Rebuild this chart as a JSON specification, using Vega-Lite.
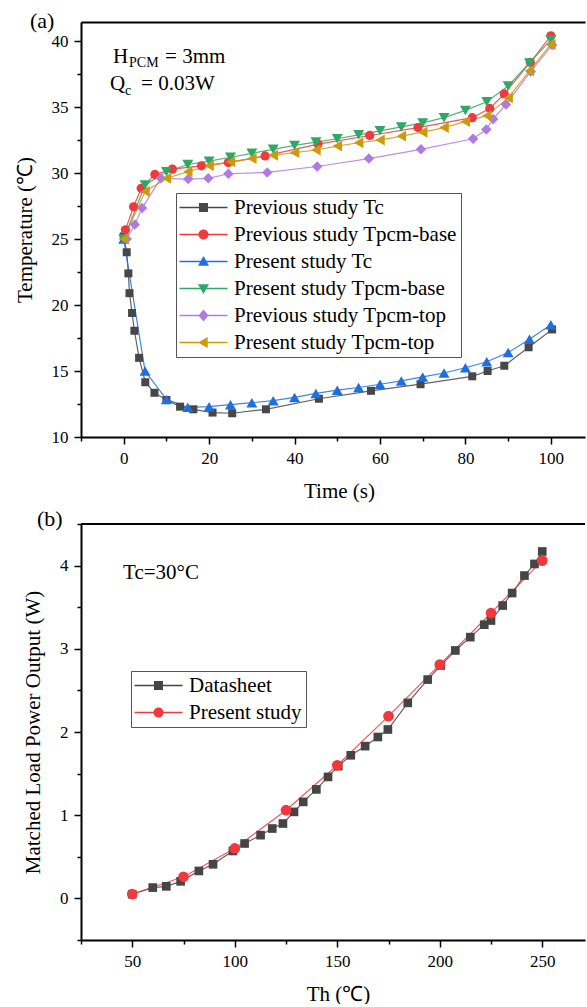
{
  "$schema": "https://vega.github.io/schema/vega-lite/v6.json",
  "background": "white",
  "padding": {"left": 14, "top": 10, "right": 0, "bottom": 0},
  "spacing": 6,
  "resolve": {"scale": {"color": "independent", "shape": "independent"}, "legend": {"color": "independent", "shape": "independent"}},
  "config": {
    "font": "Liberation Serif",
    "view": {"stroke": null},
    "axis": {"domainColor": "black", "domainWidth": 2, "tickColor": "black", "tickWidth": 1.5, "labelFont": "Liberation Serif", "labelFontSize": 17, "labelColor": "black", "titleFont": "Liberation Serif", "titleFontSize": 21, "titleFontWeight": "normal", "titleColor": "black", "titleLimit": 1000, "grid": false, "labelPadding": 6, "labelOverlap": false, "labelFlush": false},
    "legend": {"orient": "none", "strokeColor": "#555", "fillColor": "white", "padding": 4, "symbolSize": 400, "symbolOffset": 13, "labelOffset": 20, "labelFont": "Liberation Serif", "labelFontSize": 21, "labelColor": "black", "rowPadding": 5, "symbolStrokeWidth": 0, "labelLimit": 400}
  },
  "datasets": {
    "a": [
      {"s": "Previous study Tc", "t": 0, "T": 25.2},
      {"s": "Previous study Tc", "t": 0.7, "T": 24.0},
      {"s": "Previous study Tc", "t": 1.1, "T": 22.4},
      {"s": "Previous study Tc", "t": 1.35, "T": 20.9},
      {"s": "Previous study Tc", "t": 1.95, "T": 19.4},
      {"s": "Previous study Tc", "t": 2.5, "T": 18.05},
      {"s": "Previous study Tc", "t": 3.6, "T": 16.0},
      {"s": "Previous study Tc", "t": 5.05, "T": 14.15},
      {"s": "Previous study Tc", "t": 7.2, "T": 13.35},
      {"s": "Previous study Tc", "t": 10.0, "T": 12.8},
      {"s": "Previous study Tc", "t": 13.2, "T": 12.3},
      {"s": "Previous study Tc", "t": 16.3, "T": 12.1},
      {"s": "Previous study Tc", "t": 20.8, "T": 11.85},
      {"s": "Previous study Tc", "t": 25.4, "T": 11.8},
      {"s": "Previous study Tc", "t": 33.3, "T": 12.1},
      {"s": "Previous study Tc", "t": 45.7, "T": 12.9},
      {"s": "Previous study Tc", "t": 57.9, "T": 13.5},
      {"s": "Previous study Tc", "t": 69.5, "T": 14.0},
      {"s": "Previous study Tc", "t": 81.6, "T": 14.6},
      {"s": "Previous study Tc", "t": 85.2, "T": 15.0},
      {"s": "Previous study Tc", "t": 89.1, "T": 15.4},
      {"s": "Previous study Tc", "t": 94.8, "T": 16.8},
      {"s": "Previous study Tc", "t": 100.3, "T": 18.15},
      {"s": "Previous study Tpcm-base", "t": 0.4, "T": 25.7},
      {"s": "Previous study Tpcm-base", "t": 2.3, "T": 27.45},
      {"s": "Previous study Tpcm-base", "t": 4.1, "T": 28.85},
      {"s": "Previous study Tpcm-base", "t": 7.3, "T": 29.9},
      {"s": "Previous study Tpcm-base", "t": 11.4, "T": 30.3},
      {"s": "Previous study Tpcm-base", "t": 18.2, "T": 30.55},
      {"s": "Previous study Tpcm-base", "t": 24.5, "T": 30.8},
      {"s": "Previous study Tpcm-base", "t": 33.1, "T": 31.3},
      {"s": "Previous study Tpcm-base", "t": 45.5, "T": 32.2},
      {"s": "Previous study Tpcm-base", "t": 57.6, "T": 32.85},
      {"s": "Previous study Tpcm-base", "t": 68.9, "T": 33.45},
      {"s": "Previous study Tpcm-base", "t": 81.6, "T": 34.2},
      {"s": "Previous study Tpcm-base", "t": 85.7, "T": 34.9},
      {"s": "Previous study Tpcm-base", "t": 89.1, "T": 36.0},
      {"s": "Previous study Tpcm-base", "t": 95.2, "T": 38.4},
      {"s": "Previous study Tpcm-base", "t": 100, "T": 40.4},
      {"s": "Present study Tc", "t": 0, "T": 25.0},
      {"s": "Present study Tc", "t": 5, "T": 15.0},
      {"s": "Present study Tc", "t": 10, "T": 12.85},
      {"s": "Present study Tc", "t": 15, "T": 12.25},
      {"s": "Present study Tc", "t": 20, "T": 12.3},
      {"s": "Present study Tc", "t": 25, "T": 12.45},
      {"s": "Present study Tc", "t": 30, "T": 12.6},
      {"s": "Present study Tc", "t": 35, "T": 12.75},
      {"s": "Present study Tc", "t": 40, "T": 13.0},
      {"s": "Present study Tc", "t": 45, "T": 13.3},
      {"s": "Present study Tc", "t": 50, "T": 13.55},
      {"s": "Present study Tc", "t": 55, "T": 13.75},
      {"s": "Present study Tc", "t": 60, "T": 14.0},
      {"s": "Present study Tc", "t": 65, "T": 14.25},
      {"s": "Present study Tc", "t": 70, "T": 14.55},
      {"s": "Present study Tc", "t": 75, "T": 14.85},
      {"s": "Present study Tc", "t": 80, "T": 15.25},
      {"s": "Present study Tc", "t": 85, "T": 15.7},
      {"s": "Present study Tc", "t": 90, "T": 16.4},
      {"s": "Present study Tc", "t": 95, "T": 17.4},
      {"s": "Present study Tc", "t": 100, "T": 18.5},
      {"s": "Present study Tpcm-base", "t": 0, "T": 25.0},
      {"s": "Present study Tpcm-base", "t": 5, "T": 29.1},
      {"s": "Present study Tpcm-base", "t": 10, "T": 30.1},
      {"s": "Present study Tpcm-base", "t": 15, "T": 30.65},
      {"s": "Present study Tpcm-base", "t": 20, "T": 30.9},
      {"s": "Present study Tpcm-base", "t": 25, "T": 31.2},
      {"s": "Present study Tpcm-base", "t": 30, "T": 31.5},
      {"s": "Present study Tpcm-base", "t": 35, "T": 31.8},
      {"s": "Present study Tpcm-base", "t": 40, "T": 32.1},
      {"s": "Present study Tpcm-base", "t": 45, "T": 32.35},
      {"s": "Present study Tpcm-base", "t": 50, "T": 32.6},
      {"s": "Present study Tpcm-base", "t": 55, "T": 32.9},
      {"s": "Present study Tpcm-base", "t": 60, "T": 33.2},
      {"s": "Present study Tpcm-base", "t": 65, "T": 33.5},
      {"s": "Present study Tpcm-base", "t": 70, "T": 33.8},
      {"s": "Present study Tpcm-base", "t": 75, "T": 34.2},
      {"s": "Present study Tpcm-base", "t": 80, "T": 34.75},
      {"s": "Present study Tpcm-base", "t": 85, "T": 35.4},
      {"s": "Present study Tpcm-base", "t": 90, "T": 36.6},
      {"s": "Present study Tpcm-base", "t": 95, "T": 38.35},
      {"s": "Present study Tpcm-base", "t": 100, "T": 40.1},
      {"s": "Previous study Tpcm-top", "t": 0.7, "T": 25.0},
      {"s": "Previous study Tpcm-top", "t": 2.6, "T": 26.1},
      {"s": "Previous study Tpcm-top", "t": 4.3, "T": 27.35},
      {"s": "Previous study Tpcm-top", "t": 8.7, "T": 29.6},
      {"s": "Previous study Tpcm-top", "t": 15.1, "T": 29.55},
      {"s": "Previous study Tpcm-top", "t": 19.8, "T": 29.6},
      {"s": "Previous study Tpcm-top", "t": 24.5, "T": 29.95},
      {"s": "Previous study Tpcm-top", "t": 33.6, "T": 30.05},
      {"s": "Previous study Tpcm-top", "t": 45.3, "T": 30.5},
      {"s": "Previous study Tpcm-top", "t": 57.4, "T": 31.1},
      {"s": "Previous study Tpcm-top", "t": 69.6, "T": 31.8},
      {"s": "Previous study Tpcm-top", "t": 81.8, "T": 32.6},
      {"s": "Previous study Tpcm-top", "t": 84.9, "T": 33.3},
      {"s": "Previous study Tpcm-top", "t": 86.5, "T": 34.1},
      {"s": "Previous study Tpcm-top", "t": 89.5, "T": 35.2},
      {"s": "Previous study Tpcm-top", "t": 95.3, "T": 37.7},
      {"s": "Previous study Tpcm-top", "t": 100.3, "T": 39.7},
      {"s": "Present study Tpcm-top", "t": 0, "T": 25.0},
      {"s": "Present study Tpcm-top", "t": 5, "T": 28.6},
      {"s": "Present study Tpcm-top", "t": 10, "T": 29.6},
      {"s": "Present study Tpcm-top", "t": 15, "T": 30.1},
      {"s": "Present study Tpcm-top", "t": 20, "T": 30.55},
      {"s": "Present study Tpcm-top", "t": 25, "T": 30.85},
      {"s": "Present study Tpcm-top", "t": 30, "T": 31.1},
      {"s": "Present study Tpcm-top", "t": 35, "T": 31.35},
      {"s": "Present study Tpcm-top", "t": 40, "T": 31.55},
      {"s": "Present study Tpcm-top", "t": 45, "T": 31.75},
      {"s": "Present study Tpcm-top", "t": 50, "T": 32.05},
      {"s": "Present study Tpcm-top", "t": 55, "T": 32.3},
      {"s": "Present study Tpcm-top", "t": 60, "T": 32.5},
      {"s": "Present study Tpcm-top", "t": 65, "T": 32.8},
      {"s": "Present study Tpcm-top", "t": 70, "T": 33.1},
      {"s": "Present study Tpcm-top", "t": 75, "T": 33.45},
      {"s": "Present study Tpcm-top", "t": 80, "T": 33.9},
      {"s": "Present study Tpcm-top", "t": 85, "T": 34.35},
      {"s": "Present study Tpcm-top", "t": 90, "T": 35.7},
      {"s": "Present study Tpcm-top", "t": 95, "T": 37.75},
      {"s": "Present study Tpcm-top", "t": 100, "T": 39.75}
    ],
    "b": [
      {"s": "Datasheet", "Th": 50, "P": 0.05},
      {"s": "Datasheet", "Th": 60, "P": 0.13},
      {"s": "Datasheet", "Th": 66.6, "P": 0.145},
      {"s": "Datasheet", "Th": 73.6, "P": 0.205},
      {"s": "Datasheet", "Th": 82.5, "P": 0.33},
      {"s": "Datasheet", "Th": 89.4, "P": 0.41},
      {"s": "Datasheet", "Th": 99.1, "P": 0.57},
      {"s": "Datasheet", "Th": 104.8, "P": 0.66},
      {"s": "Datasheet", "Th": 112.6, "P": 0.76},
      {"s": "Datasheet", "Th": 118.3, "P": 0.84},
      {"s": "Datasheet", "Th": 123.5, "P": 0.9},
      {"s": "Datasheet", "Th": 128.9, "P": 1.04},
      {"s": "Datasheet", "Th": 133.4, "P": 1.16},
      {"s": "Datasheet", "Th": 139.8, "P": 1.31},
      {"s": "Datasheet", "Th": 145.5, "P": 1.46},
      {"s": "Datasheet", "Th": 150.5, "P": 1.59},
      {"s": "Datasheet", "Th": 156.6, "P": 1.72},
      {"s": "Datasheet", "Th": 163.6, "P": 1.83},
      {"s": "Datasheet", "Th": 169.8, "P": 1.94},
      {"s": "Datasheet", "Th": 174.7, "P": 2.03},
      {"s": "Datasheet", "Th": 184.4, "P": 2.35},
      {"s": "Datasheet", "Th": 194.1, "P": 2.63},
      {"s": "Datasheet", "Th": 200.5, "P": 2.8},
      {"s": "Datasheet", "Th": 207.6, "P": 2.98},
      {"s": "Datasheet", "Th": 214.9, "P": 3.14},
      {"s": "Datasheet", "Th": 221.7, "P": 3.29},
      {"s": "Datasheet", "Th": 225, "P": 3.34},
      {"s": "Datasheet", "Th": 230.7, "P": 3.52},
      {"s": "Datasheet", "Th": 235.3, "P": 3.67},
      {"s": "Datasheet", "Th": 241.3, "P": 3.88},
      {"s": "Datasheet", "Th": 246.2, "P": 4.02},
      {"s": "Datasheet", "Th": 250, "P": 4.17},
      {"s": "Present study", "Th": 50, "P": 0.053},
      {"s": "Present study", "Th": 75, "P": 0.26},
      {"s": "Present study", "Th": 100, "P": 0.6},
      {"s": "Present study", "Th": 125, "P": 1.06},
      {"s": "Present study", "Th": 150, "P": 1.6},
      {"s": "Present study", "Th": 175, "P": 2.19},
      {"s": "Present study", "Th": 200, "P": 2.81},
      {"s": "Present study", "Th": 225, "P": 3.43},
      {"s": "Present study", "Th": 250, "P": 4.06}
    ]
  },
  "vconcat": [
    {
      "width": 504,
      "height": 415,
      "data": {"name": "a"},
      "title": {"text": "(a)", "anchor": "start", "frame": "group", "dx": -51, "offset": -28, "baseline": "alphabetic", "font": "Liberation Serif", "fontSize": 22, "fontWeight": "normal", "color": "black"},
      "layer": [
        {
          "transform": [{"filter": "datum.t < -1000"}],
          "mark": {"type": "point", "filled": true, "opacity": 1},
          "encoding": {
            "x": {"field": "t", "type": "quantitative", "axis": {"orient": "top", "labels": false, "ticks": false, "title": null, "domainWidth": 2, "domainColor": "black", "offset": 0}},
            "y": {"field": "T", "type": "quantitative", "axis": null},
            "color": {"field": "s", "type": "nominal", "legend": {"title": null, "legendX": 95, "legendY": 171}},
            "shape": {"field": "s", "type": "nominal", "legend": {"title": null, "legendX": 95, "legendY": 171},
              "scale": {"domain": ["Previous study Tc", "Previous study Tpcm-base", "Present study Tc", "Present study Tpcm-base", "Previous study Tpcm-top", "Present study Tpcm-top"],
                "range": [
                  "M-2.4,-0.07H2.4V0.07H-2.4ZM-0.45,-0.45H0.45V0.45H-0.45Z",
                  "M-2.4,-0.07H2.4V0.07H-2.4ZM-0.5,0A0.5,0.5,0,1,1,0.5,0A0.5,0.5,0,1,1,-0.5,0Z",
                  "M-2.4,-0.07H2.4V0.07H-2.4ZM0,-0.55L0.55,0.42L-0.55,0.42Z",
                  "M-2.4,-0.07H2.4V0.07H-2.4ZM0,0.55L-0.55,-0.42L0.55,-0.42Z",
                  "M-2.4,-0.07H2.4V0.07H-2.4ZM0,-0.6L0.5,0L0,0.6L-0.5,0Z",
                  "M-2.4,-0.07H2.4V0.07H-2.4ZM-0.55,0L0.42,-0.55L0.42,0.55Z"
                ]}}
          }
        },
        {
          "mark": {"type": "line", "strokeWidth": 1.2, "opacity": 0.85},
          "encoding": {
            "x": {"field": "t", "type": "quantitative", "scale": {"domain": [-10, 108], "nice": false, "zero": false},
              "axis": {"orient": "bottom", "title": "Time (s)", "values": [0, 20, 40, 60, 80, 100], "tickSize": 7, "titlePadding": 14, "titleX": 258}},
            "y": {"field": "T", "type": "quantitative", "scale": {"domain": [10, 41.45], "nice": false, "zero": false},
              "axis": {"orient": "left", "title": "Temperature (℃)", "values": [10, 15, 20, 25, 30, 35, 40], "tickSize": 7, "titlePadding": 16}},
            "color": {"field": "s", "type": "nominal", "legend": null,
              "scale": {"domain": ["Previous study Tc", "Previous study Tpcm-base", "Present study Tc", "Present study Tpcm-base", "Previous study Tpcm-top", "Present study Tpcm-top"], "range": ["#474747", "#f0393c", "#1f70dc", "#2fa866", "#b07be0", "#cc9a0a"]}}
          }
        },
        {"transform": [{"filter": "datum.s === 'Previous study Tc'"}], "mark": {"type": "point", "shape": "square", "filled": true, "size": 64, "color": "#474747", "opacity": 1},
          "encoding": {"x": {"field": "t", "type": "quantitative", "axis": null}, "y": {"field": "T", "type": "quantitative", "axis": null}}},
        {"transform": [{"filter": "datum.s === 'Previous study Tpcm-base'"}], "mark": {"type": "point", "shape": "circle", "filled": true, "size": 85, "color": "#f0393c", "opacity": 1},
          "encoding": {"x": {"field": "t", "type": "quantitative", "axis": null}, "y": {"field": "T", "type": "quantitative", "axis": null}}},
        {"transform": [{"filter": "datum.s === 'Present study Tc'"}], "mark": {"type": "point", "shape": "triangle-up", "filled": true, "size": 120, "color": "#1f70dc", "opacity": 1},
          "encoding": {"x": {"field": "t", "type": "quantitative", "axis": null}, "y": {"field": "T", "type": "quantitative", "axis": null}}},
        {"transform": [{"filter": "datum.s === 'Present study Tpcm-base'"}], "mark": {"type": "point", "shape": "triangle-down", "filled": true, "size": 120, "color": "#2fa866", "opacity": 1},
          "encoding": {"x": {"field": "t", "type": "quantitative", "axis": null}, "y": {"field": "T", "type": "quantitative", "axis": null}}},
        {"transform": [{"filter": "datum.s === 'Previous study Tpcm-top'"}], "mark": {"type": "point", "shape": "diamond", "filled": true, "size": 110, "color": "#b07be0", "opacity": 1},
          "encoding": {"x": {"field": "t", "type": "quantitative", "axis": null}, "y": {"field": "T", "type": "quantitative", "axis": null}}},
        {"transform": [{"filter": "datum.s === 'Present study Tpcm-top'"}], "mark": {"type": "point", "shape": "triangle-left", "filled": true, "size": 120, "color": "#cc9a0a", "opacity": 1},
          "encoding": {"x": {"field": "t", "type": "quantitative", "axis": null}, "y": {"field": "T", "type": "quantitative", "axis": null}}},
        {
          "transform": [{"filter": "datum.t < -1000"}],
          "mark": {"type": "point", "filled": true, "opacity": 0},
          "encoding": {
            "x": {"field": "t", "type": "quantitative", "axis": {"orient": "bottom", "values": [-10, 10, 30, 50, 70, 90], "labels": false, "tickSize": 4, "domain": false, "title": null}},
            "y": {"field": "T", "type": "quantitative", "axis": {"orient": "left", "values": [12.5, 17.5, 22.5, 27.5, 32.5, 37.5], "labels": false, "tickSize": 4, "domain": false, "title": null}}
          }
        },
        {"data": {"values": [{}]}, "mark": {"type": "text", "text": "H", "font": "Liberation Serif", "fontSize": 21, "align": "left", "baseline": "alphabetic", "color": "black"},
          "encoding": {"x": {"datum": -2.5, "type": "quantitative", "axis": null}, "y": {"datum": 38.38, "type": "quantitative", "axis": null}}},
        {"data": {"values": [{}]}, "mark": {"type": "text", "text": "PCM", "font": "Liberation Serif", "fontSize": 14, "align": "left", "baseline": "alphabetic", "color": "black", "dx": 16, "dy": 4},
          "encoding": {"x": {"datum": -2.5, "type": "quantitative", "axis": null}, "y": {"datum": 38.38, "type": "quantitative", "axis": null}}},
        {"data": {"values": [{}]}, "mark": {"type": "text", "text": "= 3mm", "font": "Liberation Serif", "fontSize": 21, "align": "left", "baseline": "alphabetic", "color": "black", "dx": 52},
          "encoding": {"x": {"datum": -2.5, "type": "quantitative", "axis": null}, "y": {"datum": 38.38, "type": "quantitative", "axis": null}}},
        {"data": {"values": [{}]}, "mark": {"type": "text", "text": "Q", "font": "Liberation Serif", "fontSize": 21, "align": "left", "baseline": "alphabetic", "color": "black"},
          "encoding": {"x": {"datum": -3.2, "type": "quantitative", "axis": null}, "y": {"datum": 36.27, "type": "quantitative", "axis": null}}},
        {"data": {"values": [{}]}, "mark": {"type": "text", "text": "c", "font": "Liberation Serif", "fontSize": 14, "align": "left", "baseline": "alphabetic", "color": "black", "dx": 15, "dy": 5},
          "encoding": {"x": {"datum": -3.2, "type": "quantitative", "axis": null}, "y": {"datum": 36.27, "type": "quantitative", "axis": null}}},
        {"data": {"values": [{}]}, "mark": {"type": "text", "text": "= 0.03W", "font": "Liberation Serif", "fontSize": 21, "align": "left", "baseline": "alphabetic", "color": "black", "dx": 31},
          "encoding": {"x": {"datum": -3.2, "type": "quantitative", "axis": null}, "y": {"datum": 36.27, "type": "quantitative", "axis": null}}}
      ],
      "resolve": {"axis": {"x": "independent", "y": "independent"}}
    },
    {
      "width": 504,
      "height": 416,
      "data": {"name": "b"},
      "layer": [
        {
          "transform": [{"filter": "datum.Th < -1000"}],
          "mark": {"type": "point", "filled": true, "opacity": 1},
          "encoding": {
            "x": {"field": "Th", "type": "quantitative", "axis": null},
            "y": {"field": "P", "type": "quantitative", "axis": null},
            "color": {"field": "s", "type": "nominal", "legend": {"title": null, "legendX": 50, "legendY": 147}},
            "shape": {"field": "s", "type": "nominal", "legend": {"title": null, "legendX": 50, "legendY": 147},
              "scale": {"domain": ["Datasheet", "Present study"],
                "range": [
                  "M-2.4,-0.07H2.4V0.07H-2.4ZM-0.45,-0.45H0.45V0.45H-0.45Z",
                  "M-2.4,-0.07H2.4V0.07H-2.4ZM-0.5,0A0.5,0.5,0,1,1,0.5,0A0.5,0.5,0,1,1,-0.5,0Z"
                ]}}
          }
        },
        {
          "mark": {"type": "line", "strokeWidth": 1.2, "opacity": 0.85},
          "encoding": {
            "x": {"field": "Th", "type": "quantitative", "scale": {"domain": [25, 270.85], "nice": false, "zero": false},
              "axis": {"orient": "bottom", "title": "Th (℃)", "values": [50, 100, 150, 200, 250], "tickSize": 7, "titlePadding": 14, "titleX": 257}},
            "y": {"field": "P", "type": "quantitative", "scale": {"domain": [-0.5, 4.5], "nice": false, "zero": false},
              "axis": {"orient": "left", "title": "Matched Load Power Output (W)", "values": [0, 1, 2, 3, 4], "tickSize": 7, "titlePadding": 16}},
            "color": {"field": "s", "type": "nominal", "legend": null, "scale": {"domain": ["Datasheet", "Present study"], "range": ["#454545", "#f0393c"]}}
          }
        },
        {"transform": [{"filter": "datum.s === 'Datasheet'"}], "mark": {"type": "point", "shape": "square", "filled": true, "size": 75, "color": "#454545", "opacity": 1},
          "encoding": {"x": {"field": "Th", "type": "quantitative", "axis": null}, "y": {"field": "P", "type": "quantitative", "axis": null}}},
        {"transform": [{"filter": "datum.s === 'Present study'"}], "mark": {"type": "point", "shape": "circle", "filled": true, "size": 115, "color": "#f0393c", "opacity": 1},
          "encoding": {"x": {"field": "Th", "type": "quantitative", "axis": null}, "y": {"field": "P", "type": "quantitative", "axis": null}}},
        {
          "transform": [{"filter": "datum.Th < -1000"}],
          "mark": {"type": "point", "filled": true, "opacity": 0},
          "encoding": {
            "x": {"field": "Th", "type": "quantitative", "axis": {"orient": "bottom", "values": [25, 75, 125, 175, 225], "labels": false, "tickSize": 4, "domain": false, "title": null}},
            "y": {"field": "P", "type": "quantitative", "axis": {"orient": "left", "values": [-0.5, 0.5, 1.5, 2.5, 3.5, 4.5], "labels": false, "tickSize": 4, "domain": false, "title": null}}
          }
        },
        {"data": {"values": [{}]}, "mark": {"type": "rule", "color": "black", "strokeWidth": 2},
          "encoding": {"y": {"datum": 4.5, "type": "quantitative", "axis": null}}},
        {"data": {"values": [{}]}, "mark": {"type": "text", "text": "(b)", "font": "Liberation Serif", "fontSize": 22, "align": "left", "baseline": "alphabetic", "color": "black"},
          "encoding": {"x": {"datum": 3.5, "type": "quantitative", "axis": null}, "y": {"datum": 4.476, "type": "quantitative", "axis": null}}},
        {"data": {"values": [{}]}, "mark": {"type": "text", "text": "Tc=30°C", "font": "Liberation Serif", "fontSize": 21, "align": "left", "baseline": "alphabetic", "color": "black"},
          "encoding": {"x": {"datum": 45.5, "type": "quantitative", "axis": null}, "y": {"datum": 3.84, "type": "quantitative", "axis": null}}}
      ],
      "resolve": {"axis": {"x": "independent", "y": "independent"}}
    }
  ]
}
